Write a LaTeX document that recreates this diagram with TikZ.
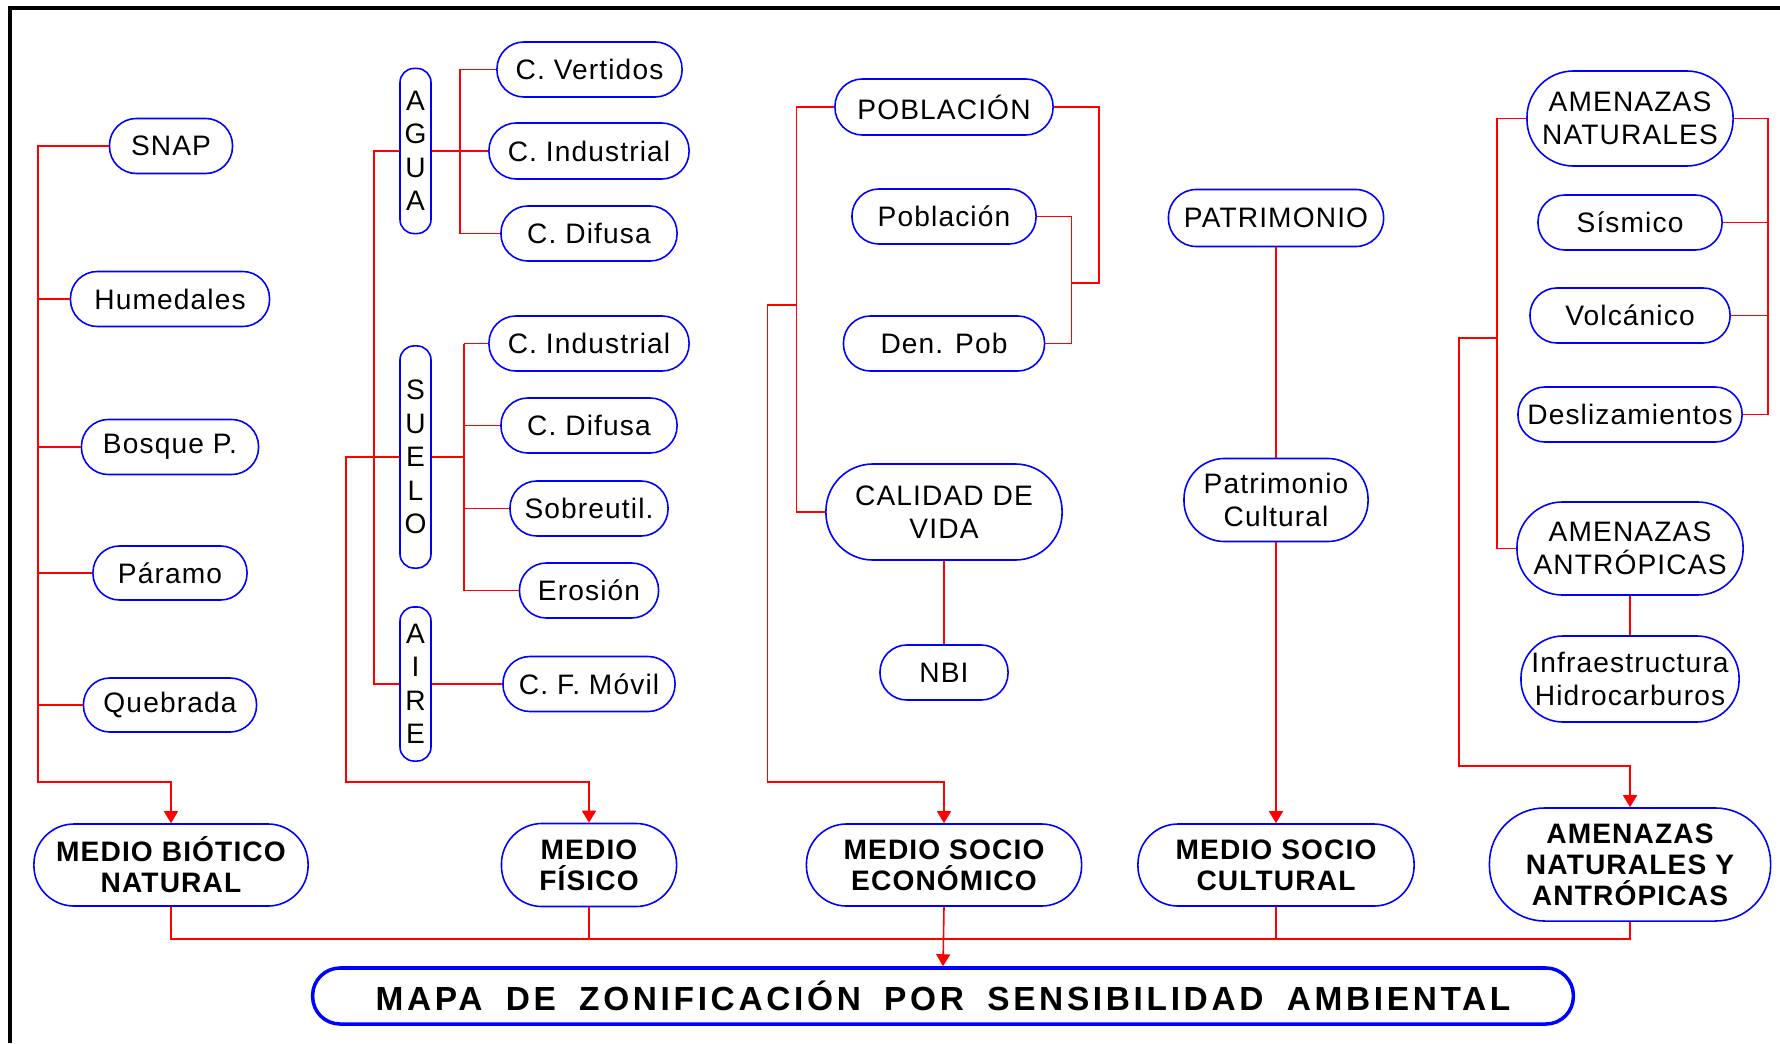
\documentclass[tikz,border=0pt]{standalone}
\usepackage{fontspec}
\setmainfont{Liberation Sans}
\newfontfamily\itemfont{Liberation Sans}[LetterSpace=4]
\newfontfamily\titlefont{Liberation Sans}[LetterSpace=11,WordSpace=1.8]
\usetikzlibrary{positioning,arrows.meta}
\definecolor{linkred}{HTML}{FF0000}
\definecolor{boxblue}{HTML}{0000FF}

\begin{document}
\begin{tikzpicture}[x=0.01cm, y=-0.01cm,
    item/.style={rectangle, draw=boxblue, line width=0.45pt, inner xsep=1pt, inner ysep=0pt, align=center, font=\itemfont\fontsize{8}{9.3}\selectfont},
    dims/.style 2 args={minimum width=#1cm, minimum height=#2cm, rounded corners=#2*0.49cm},
    medio/.style={item, font=\itemfont\bfseries\fontsize{8}{8.8}\selectfont},
    vbox/.style={item, rounded corners=0.14cm, minimum width=0.31cm, inner xsep=0pt, font=\itemfont\fontsize{8}{9.5}\selectfont},
    link/.style={draw=linkred, line width=0.45pt},
    arr/.style={link, -{Triangle[width=0.14cm,length=0.12cm]}}
  ]
    \useasboundingbox (0,0) rectangle (1780,1043);
    % Frame
    \draw[line width=1.1pt] (10,1043) -- (10,8) -- (1780,8);

    % Medio biotico
    \node[item, dims={1.23}{0.55}] (snap) at (171,146) {SNAP};
    \node[item, dims={1.99}{0.55}] (hum) at (170,299) {Humedales};
    \node[item, dims={1.77}{0.55}] (bosq) at (170,447) {Bosque P.};
    \node[item, dims={1.54}{0.54}] (param) at (170,573) {Páramo};
    \node[item, dims={1.73}{0.54}] (queb) at (170,705) {Quebrada};
    \node[medio, dims={2.74}{0.82}] (mbio) at (171,865) {MEDIO BIÓTICO\\NATURAL};

    % Medio fisico
    \node[vbox, minimum height=1.65cm] (agua) at (415.5,151) {A\\G\\U\\A};
    \node[vbox, minimum height=2.22cm] (suelo) at (415.5,457) {S\\U\\E\\L\\O};
    \node[vbox, minimum height=1.54cm] (aire) at (415.5,684) {A\\I\\R\\E};
    \node[item, dims={1.85}{0.55}] (cvert) at (589.5,69.5) {C. Vertidos};
    \node[item, dims={2.00}{0.56}] (cind) at (589,151) {C. Industrial};
    \node[item, dims={1.76}{0.55}] (cdif) at (589,233.5) {C. Difusa};
    \node[item, dims={2.00}{0.55}] (sind) at (589,343.5) {C. Industrial};
    \node[item, dims={1.76}{0.55}] (sdif) at (589,425.5) {C. Difusa};
    \node[item, dims={1.58}{0.55}] (sobre) at (589,508.5) {Sobreutil.};
    \node[item, dims={1.39}{0.55}] (eros) at (589,590.5) {Erosión};
    \node[item, dims={1.72}{0.55}] (cfmov) at (589,684) {C. F. Móvil};
    \node[medio, dims={1.75}{0.83}] (mfis) at (589,865) {MEDIO\\FÍSICO};

    % Medio socio economico
    \node[item, dims={2.18}{0.56}] (pobl) at (944,107) {POBLACIÓN};
    \node[item, dims={1.84}{0.55}] (poblb) at (944,216.5) {Población};
    \node[item, dims={2.01}{0.55}] (denpob) at (944,343.5) {Den. Pob};
    \node[item, dims={2.36}{0.96}] (calid) at (944,512) {CALIDAD DE\\VIDA};
    \node[item, dims={1.28}{0.55}] (nbi) at (944,672.5) {NBI};
    \node[medio, dims={2.75}{0.82}] (msoce) at (944,865) {MEDIO SOCIO\\ECONÓMICO};

    % Medio socio cultural
    \node[item, dims={2.15}{0.57}] (patri) at (1276,218) {PATRIMONIO};
    \node[item, dims={1.84}{0.83}] (patric) at (1276,500) {Patrimonio\\Cultural};
    \node[medio, dims={2.76}{0.82}] (msocu) at (1276,865) {MEDIO SOCIO\\CULTURAL};

    % Amenazas
    \node[item, dims={2.06}{0.95}] (amnat) at (1630,118.5) {AMENAZAS\\NATURALES};
    \node[item, dims={1.84}{0.55}] (sism) at (1630,222.5) {Sísmico};
    \node[item, dims={2.00}{0.55}] (volc) at (1630,315.5) {Volcánico};
    \node[item, dims={2.24}{0.55}] (desl) at (1630,414.5) {Deslizamientos};
    \node[item, dims={2.26}{0.93}] (amant) at (1630,548.5) {AMENAZAS\\ANTRÓPICAS};
    \node[item, dims={2.18}{0.86}] (infra) at (1630,679) {Infraestructura\\Hidrocarburos};
    \node[medio, dims={2.81}{1.13}] (amnya) at (1630,864.5) {AMENAZAS\\NATURALES Y\\ANTRÓPICAS};

    % Titulo
    \node[item, line width=1pt, dims={12.60}{0.56}, font=\titlefont\bfseries\fontsize{9.5}{11}\selectfont] (mapa) at (943,996) {MAPA DE ZONIFICACIÓN POR SENSIBILIDAD AMBIENTAL};

    % Conectores medio biotico
    \coordinate (t1) at (38,782);
    \draw[arr] (snap.west) -| (t1) -| (mbio.north);
    \foreach \n in {hum,bosq,param,queb}
      \draw[link] (\n.west) -- (\n.west -| t1);

    % Conectores medio fisico
    \coordinate (t2) at (346,782);
    \coordinate (w2) at (460,151);
    \coordinate (s2) at (464,457);
    \draw[arr] (suelo.west) -| (t2) -| (mfis.north);
    \draw[link] (agua.west) -- ++(-25,0) |- (aire.west);
    \draw[link] (agua.east) -- (cind.west);
    \draw[link] (cvert.west) -| (w2) |- (cdif.west);
    \draw[link] (suelo.east) -- (s2);
    \foreach \n in {sind,sdif,sobre,eros}
      \draw[link] (\n.west) -- (\n.west -| s2);
    \draw[link] (sind.west -| s2) -- (eros.west -| s2);
    \draw[link] (aire.east) -- (cfmov.west);

    % Conectores medio socio economico
    \coordinate (p3) at (796.5,305);
    \coordinate (t3) at (767.5,782);
    \coordinate (r3) at (1099,283);
    \coordinate (q3) at (1071.5,283);
    \draw[link] (pobl.west) -| (p3) |- (calid.west);
    \draw[arr] (p3) -| (t3) -| (msoce.north);
    \draw[link] (pobl.east) -| (r3) -- (q3);
    \draw[link] (poblb.east) -| (q3 |- denpob.east) -- (denpob.east);
    \draw[link] (calid) -- (nbi);

    % Conectores medio socio cultural
    \draw[link] (patri) -- (patric);
    \draw[arr] (patric) -- (msocu);

    % Conectores amenazas
    \coordinate (r5) at (1768,414.5);
    \coordinate (l5) at (1497,338);
    \coordinate (t5) at (1459,766);
    \draw[link] (amnat.east) -| (r5) -- (desl.east);
    \foreach \n in {sism,volc}
      \draw[link] (\n.east) -- (\n.east -| r5);
    \draw[link] (amnat.west) -| (l5) |- (amant.west);
    \draw[arr] (l5) -| (t5) -| (amnya.north);
    \draw[link] (amant) -- (infra);

    % Union final
    \coordinate (bus) at (0,939);
    \draw[link] (mbio.south) |- (amnya.south |- bus) -- (amnya.south);
    \foreach \n in {mfis,msocu}
      \draw[link] (\n.south) -- (\n.south |- bus);
    \draw[arr] (msoce.south) -- (mapa.north);
  \end{tikzpicture}
\end{document}
